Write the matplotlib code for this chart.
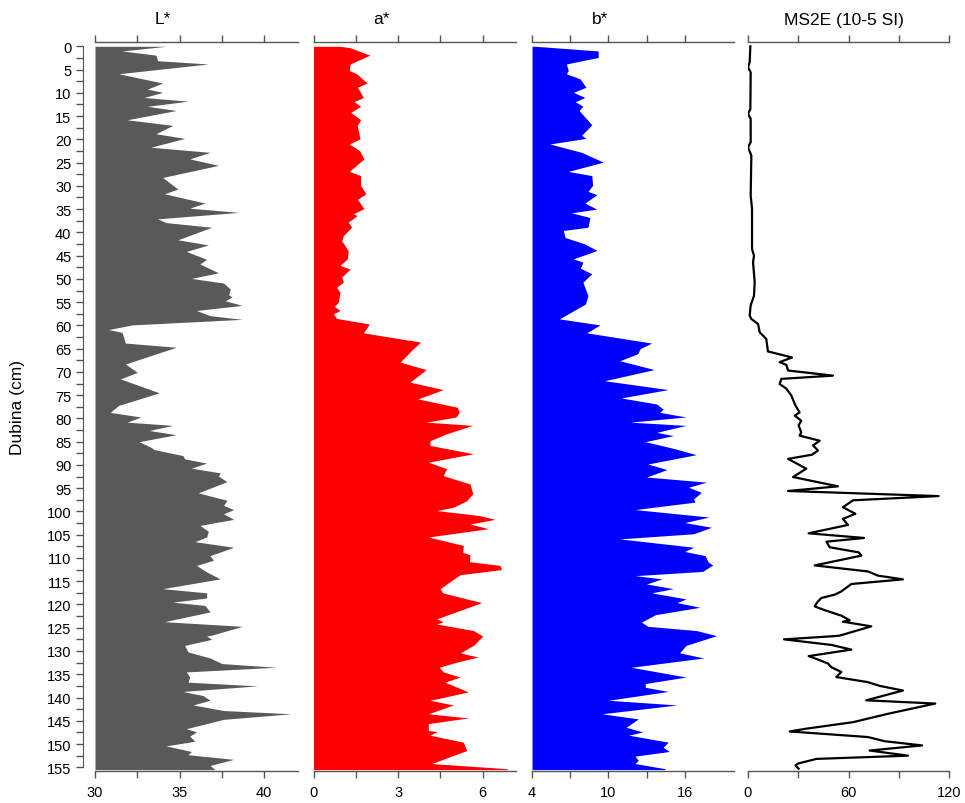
import matplotlib.pyplot as plt
import numpy as np

plt.rcParams['font.family'] = ['Liberation Sans', 'DejaVu Sans']

# L* (depth cm, value)
l_depth = [0, 1, 1.9, 3.1, 3.8, 5.9, 7.9, 9.2, 9.9, 11,
           11.8, 12.9, 13.8, 15.8, 17, 18.8, 19.8, 21.7, 22.8, 24.2,
           25.6, 28.2, 30.7, 31.7, 33.7, 34.8, 35.7, 37.1, 37.9, 38.9,
           41.6, 42.7, 44.1, 45.8, 46.8, 48.7, 49.9, 50.9, 52.2, 53.4,
           53.9, 54.7, 55.7, 56.8, 57.9, 58.7, 59.9, 60.9, 61.5, 63.8,
           64.7, 68.3, 70.1, 71.5, 74.5, 77.2, 78.7, 79.7, 80.8, 81.5,
           82.6, 83.5, 85, 86.2, 86.7, 88, 88.7, 89.6, 90.7, 91.7,
           92.4, 93.6, 96, 97.6, 98.7, 99.6, 100.5, 101.7, 103, 104.3,
           105.5, 106.5, 107.7, 109.5, 110.5, 111.6, 113, 114.5, 116.6, 117.5,
           118.6, 119.5, 120.2, 121.6, 123.7, 124.7, 126.5, 126.8, 127.5, 128.8,
           130.2, 131.5, 132.7, 133.5, 134.5, 135.6, 136.7, 137.5, 138.7, 139.6,
           140.6, 141.6, 142.8, 143.5, 144.7, 146.7, 147.4, 148.3, 149.4, 150.4,
           151.6, 152.3, 153.3, 154.6, 155.5]
l_val = [34.2, 31.6, 33.6, 33.7, 36.7, 31.4, 34.0, 33.1, 34.0, 32.9,
         35.5, 33.1, 34.8, 31.9, 34.6, 33.6, 35.3, 33.3, 36.8, 35.6,
         37.3, 34.0, 34.9, 34.1, 36.5, 35.6, 38.5, 33.7, 34.2, 36.9,
         34.9, 36.7, 35.4, 36.6, 36.2, 37.3, 35.7, 37.6, 38.0, 37.9,
         38.1, 37.7, 38.7, 36.0, 36.8, 38.7, 32.2, 30.8, 31.6, 31.8,
         34.8, 31.8, 32.5, 31.5, 33.8, 31.4, 30.9, 32.7, 31.9, 34.6,
         33.2, 34.8, 32.6, 33.3, 33.5, 35.2, 35.3, 36.6, 35.7, 37.4,
         37.3, 37.8, 36.1, 37.8, 37.6, 38.2, 37.6, 38.2, 36.2, 36.7,
         36.6, 35.9, 38.2, 36.8, 37.0, 36.0, 36.6, 37.4, 34.0, 36.6,
         36.6, 34.6, 36.5, 36.8, 34.1, 38.7, 37.0, 36.6, 36.9, 35.3,
         35.5, 36.8, 37.5, 40.7, 35.4, 35.6, 35.5, 39.6, 35.2, 36.4,
         36.8, 35.8, 37.6, 41.6, 37.6, 35.4, 36.0, 35.6, 35.9, 34.2,
         35.7, 35.5, 38.2, 36.8, 37.1]

# a*
a_depth = [0, 0.3, 1.9, 3.8, 5.2, 5.9, 7.9, 8.8, 11, 11.9,
           12.9, 14.2, 15.8, 17, 19.9, 21, 22.4, 24.2, 26.9, 27.8,
           29.9, 31.7, 32.9, 34.9, 36, 36.4, 37.8, 38.9, 40.7, 41.8,
           43.9, 45.7, 47.1, 47.9, 49.6, 50.7, 51.8, 52.9, 55, 55.9,
           56.8, 57.5, 58.5, 59.7, 61.6, 63.6, 65, 67.9, 69.5, 72.2,
           73.8, 75.8, 77.6, 78.7, 79.7, 80.8, 81.5, 83.3, 84.8, 85.8,
           87.6, 89.4, 90.8, 92.3, 94.1, 96.2, 97.7, 99.1, 99.8, 100.9,
           101.7, 102.7, 103.7, 105.5, 107.3, 108.8, 109.3, 110.8, 111.6, 112.5,
           113.6, 114.5, 116.6, 117.5, 119.6, 123.1, 123.7, 124.2, 125.6, 126.8,
           128.8, 130.4, 131.3, 132.4, 133.5, 134.5, 135.6, 136.7, 138.8, 140.6,
           141.6, 143.5, 144.4, 145.6, 147.1, 147.3, 148.1, 149.6, 151.4, 154.2,
           155.3, 155.5]
a_val = [0.94, 1.3, 2.0, 1.3, 1.27, 1.53, 1.9, 1.56, 1.77, 1.44,
         1.67, 1.32, 1.67, 1.55, 1.65, 1.27, 1.63, 1.79, 1.27, 1.67,
         1.67, 1.86, 1.56, 1.79, 1.41, 1.55, 1.23, 1.35, 1.06, 1.0,
         1.23, 1.2, 0.94, 1.3, 1.0, 1.06, 0.82, 0.94, 0.88, 0.74,
         0.94, 0.7, 0.82, 1.98, 1.77, 3.8, 3.54, 3.07, 4.0, 3.42,
         4.6, 3.7, 5.1, 5.17, 5.05, 4.0, 5.64, 4.72, 4.13, 4.13,
         5.67, 4.07, 4.72, 4.6, 5.55, 5.65, 5.43, 4.96, 4.37, 5.9,
         6.44, 5.55, 6.2, 4.07, 5.31, 5.29, 5.55, 5.53, 6.61, 6.67,
         5.2, 4.98, 4.49, 4.58, 5.96, 4.37, 4.6, 4.37, 5.67, 6.0,
         5.67, 5.2, 5.84, 5.08, 4.46, 4.6, 5.2, 4.66, 5.49, 4.13,
         4.96, 4.07, 5.49, 4.07, 4.07, 4.39, 4.13, 5.31, 5.43, 4.19,
         6.85, 6.9]

# b*
b_depth = [0, 1.0, 2.4, 3.8, 5.2, 5.9, 7.0, 8.8, 9.9, 11,
           11.9, 12.9, 13.8, 16.9, 19.1, 19.8, 21, 22.8, 24.9, 26.9,
           27.8, 29.9, 31.2, 31.9, 33.7, 35, 35.8, 36.8, 38.9, 39.6,
           41.1, 42.5, 43.9, 45.7, 46.4, 47.7, 48.9, 50.7, 52.2, 53.6,
           55.4, 58.6, 59.9, 61.6, 63.8, 65, 66.1, 67.6, 69.5, 71.9,
           73.8, 75.6, 76.9, 78, 78.7, 79.7, 80.8, 81.5, 83, 83.7,
           85, 86.5, 87.8, 89.8, 91, 92.6, 93.7, 94.8, 95.9, 97.3,
           98, 99.6, 101.2, 102.4, 103.4, 104.8, 105.9, 107.7, 108.6, 109.5,
           110.9, 111.5, 112.9, 113.8, 114.5, 115.6, 116.6, 117.5, 118.8, 119.6,
           120.6, 122.2, 123.8, 124.7, 125.6, 126.7, 128.8, 130.4, 131.5, 133.5,
           135.6, 137, 137.8, 138.7, 140.6, 141.6, 143.5, 144.6, 146.4, 147.4,
           148.1, 149.6, 150.7, 151.6, 152.6, 153.5, 154.2, 155.3, 155.5]
b_val = [4.3, 9.2, 9.2, 6.7, 6.85, 6.7, 7.77, 8.24, 7.25, 8.16,
         7.4, 8.0, 7.7, 8.7, 7.9, 8.24, 5.4, 7.9, 9.6, 6.85,
         8.7, 8.76, 8.4, 9.1, 8.16, 9.08, 7.1, 8.55, 8.4, 6.46,
         6.6, 8.16, 9.1, 7.25, 8.0, 7.8, 8.7, 8.0, 8.2, 8.4,
         8.2, 6.15, 9.34, 8.3, 13.4, 12.5, 12.3, 10.9, 13.6, 9.7,
         14.7, 11.0, 13.8, 14.3, 14.05, 16.1, 11.7, 16.1, 13.8, 15.1,
         12.9, 15.2, 16.9, 13.1, 14.6, 13.0, 17.7, 16.3, 17.3, 16.7,
         16.8, 12.1, 17.9, 16.0, 18.1, 16.7, 10.9, 16.7, 16.0, 17.6,
         17.85, 18.2, 17.4, 12.1, 14.2, 13.0, 15.1, 13.4, 16.1, 15.4,
         17.2, 13.7, 12.6, 13.1, 16.9, 18.5, 16.1, 15.6, 17.5, 11.8,
         16.1, 12.9, 12.9, 14.7, 10.0, 15.4, 9.5, 12.35, 11.4, 12.7,
         11.6, 14.7, 14.3, 14.8, 12.1, 12.35, 12.1, 14.45, 14.45]

# MS2E (10-5 SI)
ms_depth = [0, 3.4, 4.5, 5.6, 13.5, 14.5, 15.6, 20.6, 21.7, 23.5,
            32.1, 34.9, 37.8, 43.6, 45, 46.4, 50.7, 53.6, 55.7, 57.9,
            58.6, 59.7, 61.5, 62.9, 65.6, 66.1, 66.9, 67.9, 68.5, 69.7,
            70.8, 71.5, 72.6, 73.6, 75.1, 76.5, 77.2, 78.7, 79.4, 80.5,
            81.5, 83, 83.7, 84.8, 85.8, 86.9, 87.8, 88.7, 90.8, 92.6,
            94.6, 95.6, 96.7, 97.6, 99.1, 100.5, 101.6, 102.9, 104.7, 105.7,
            106.5, 107.7, 108.8, 109.5, 111.6, 112.9, 113.8, 114.6, 115.6, 117.2,
            117.9, 118.6, 119.5, 120.4, 121.1, 122.4, 123.4, 123.7, 124.7, 126.7,
            126.8, 127.5, 128.7, 129.7, 131.1, 131.7, 132.7, 133.5, 134.5, 135.6,
            136.7, 137.5, 138.5, 140.6, 141.3, 143.5, 145.3, 146.7, 147.3, 148.5,
            149.4, 150.3, 151.4, 152.5, 153.2, 154.2, 154.6, 155.3]
ms_val = [1.4, 1.0, 0, 1.6, 1.4, 0, 1.6, 1.6, 0, 2.0,
          1.6, 2.4, 2.4, 2.4, 3.6, 3.0, 4.0, 3.6, 1.6, 1.0,
          2.0, 6.0, 7.0, 10.9, 11.9, 17.5, 26.3, 18.9, 22.9, 23.9,
          50.7, 19.9, 18.9, 22.9, 25.9, 27.5, 28.3, 30.8, 27.9, 31.8,
          30.2, 31.8, 30.8, 42.8, 38.8, 41.8, 38.2, 23.9, 34.8, 26.9,
          53.7, 23.9, 113.8, 62.7, 56.7, 64.1, 56.7, 59.7, 36.2, 69.3,
          46.8, 48.8, 66.1, 67.7, 39.8, 71.6, 77.6, 92.5, 61.7, 55.7,
          51.7, 43.8, 41.4, 39.8, 44.8, 55.7, 60.7, 56.7, 73.6, 54.7,
          51.7, 21.5, 49.8, 61.7, 36.2, 40.8, 47.8, 49.8, 55.7, 52.7,
          71.6, 78.6, 92.5, 70.6, 111.8, 83.6, 62.7, 34.8, 24.9, 71.6,
          81.6, 103.9, 72.6, 95.5, 40.8, 29.9, 28.3, 30.2]

titles = ['L*', 'a*', 'b*', 'MS2E (10-5 SI)']
depth_ticks = list(range(0, 156, 5))

W, H = 965, 804
fig = plt.figure(figsize=(W / 100, H / 100), dpi=100)
y_top, y_bot = 43.3, 772


def add_panel(x0, x1):
    return fig.add_axes([x0 / W, 1 - y_bot / H, (x1 - x0) / W, (y_bot - y_top) / H])


panels = [
    # x0, x1, xlim, ticks, labels, title x (px)
    (95, 298, (30, 42), [30, 32.5, 35, 37.5, 40], ['30', '', '35', '', '40'], 163),
    (313.5, 516, (0, 7.18), [0, 1.5, 3, 4.5, 6], ['0', '', '3', '', '6'], 381),
    (532, 734, (4, 19.87), [4, 7, 10, 13, 16], ['4', '', '10', '', '16'], 600),
    (748, 949, (0, 120), [0, 30, 60, 90, 120], ['0', '', '60', '', '120'], 844),
]

axes = []
for x0, x1, xlim, ticks, labels, tx in panels:
    ax = add_panel(x0, x1)
    ax.set_xlim(*xlim)
    ax.set_ylim(155.8, -0.86)
    ax.set_xticks(ticks)
    ax.set_xticklabels(labels, fontsize=10.5)
    ax.tick_params(axis='x', which='both', top=True, bottom=True, direction='out',
                   length=5, width=1, color='#555555', pad=5)
    for s in ['left', 'right']:
        ax.spines[s].set_visible(False)
    for s in ['top', 'bottom']:
        ax.spines[s].set_color('#555555')
        ax.spines[s].set_linewidth(1)
    ax.set_yticks([])
    ax.patch.set_alpha(0)
    axes.append(ax)

for (x0, x1, xlim, ticks, labels, tx), t in zip(panels, titles):
    fig.text(tx / W, 1 - 20 / H, t, ha='center', va='center', fontsize=12.5)

ax_l, ax_a, ax_b, ax_m = axes

ax_l.fill_betweenx(l_depth, 30, l_val, color='#595959', lw=0)
ax_a.fill_betweenx(a_depth, 0, a_val, color='#ff0000', lw=0)
ax_b.fill_betweenx(b_depth, 4, b_val, color='#0000ff', lw=0)
ax_m.plot(ms_val, ms_depth, color='black', lw=1.6, solid_joinstyle='round')

# depth axis on the first panel
ax_l.spines['left'].set_visible(True)
ax_l.spines['left'].set_position(('outward', 9))
ax_l.spines['left'].set_bounds(0, 155)
ax_l.spines['left'].set_color('#555555')
ax_l.set_yticks(depth_ticks)
ax_l.set_yticklabels([str(v) for v in depth_ticks], fontsize=10.5)
ax_l.set_yticks(np.arange(2.5, 155, 5), minor=True)
ax_l.tick_params(axis='y', which='both', left=True, direction='out', length=5,
                 width=1, color='#555555', pad=3)
ax_l.set_ylabel('Dubina (cm)', fontsize=12.5, labelpad=16)

fig.savefig('out.png', dpi=100)
